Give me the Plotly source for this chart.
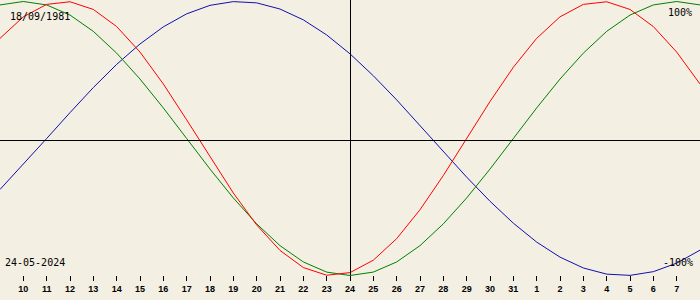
import plotly.graph_objects as go
import pandas as pd

# Dates shown (9 May 2024 .. 8 June 2024)
dates = list(pd.date_range("2024-05-09", "2024-06-08").strftime("%Y-%m-%d"))

# Biorhythm values per day, fraction of 100%
physical = [0.731, 0.888, 0.979, 0.998, 0.942, 0.817, 0.631, 0.398, 0.136, -0.136,
            -0.398, -0.631, -0.817, -0.942, -0.998, -0.979, -0.888, -0.731, -0.520, -0.270,
            0.000, 0.270, 0.520, 0.731, 0.888, 0.979, 0.998, 0.942, 0.817, 0.631, 0.398]
emotional = [0.975, 1.000, 0.975, 0.901, 0.782, 0.623, 0.434, 0.223, 0.000, -0.223,
             -0.434, -0.623, -0.782, -0.901, -0.975, -1.000, -0.975, -0.901, -0.782, -0.623,
             -0.434, -0.223, 0.000, 0.223, 0.434, 0.623, 0.782, 0.901, 0.975, 1.000, 0.975]
intellectual = [-0.372, -0.189, 0.000, 0.189, 0.372, 0.541, 0.690, 0.815, 0.910, 0.972,
                0.999, 0.990, 0.945, 0.866, 0.756, 0.618, 0.458, 0.282, 0.095, -0.095,
                -0.282, -0.458, -0.618, -0.756, -0.866, -0.945, -0.990, -0.999, -0.972, -0.910, -0.815]

tick_dates = dates[1:30]
tick_labels = [str(int(d[-2:])) for d in tick_dates]

birth_label = "18/09/1981"
target_label = "24-05-2024"

BG = "#f3efe3"

fig = go.Figure()
fig.add_trace(go.Scatter(x=dates, y=intellectual, mode="lines",
                         line=dict(color="#1010b0", width=1), hoverinfo="skip"))
fig.add_trace(go.Scatter(x=dates, y=emotional, mode="lines",
                         line=dict(color="#008000", width=1), hoverinfo="skip"))
fig.add_trace(go.Scatter(x=dates, y=physical, mode="lines",
                         line=dict(color="#ff0000", width=1), hoverinfo="skip"))

# axes lines (centre cross at the target date)
fig.add_shape(type="line", xref="paper", yref="paper", x0=0, x1=1,
              y0=1 - 140.5 / 300, y1=1 - 140.5 / 300, line=dict(color="black", width=1))
fig.add_shape(type="line", xref="paper", yref="paper", x0=350.5 / 700, x1=350.5 / 700,
              y0=25 / 300, y1=1, line=dict(color="black", width=1))

mono = "DejaVu Sans Mono"
fig.add_annotation(text=birth_label, xref="paper", yref="paper", x=8 / 700, y=1 - 16.5 / 300,
                   xanchor="left", yanchor="middle", showarrow=False,
                   font=dict(family=mono, size=10, color="black"))
fig.add_annotation(text=target_label, xref="paper", yref="paper", x=3 / 700, y=1 - 262.5 / 300,
                   xanchor="left", yanchor="middle", showarrow=False,
                   font=dict(family=mono, size=10, color="black"))
fig.add_annotation(text="100%", xref="paper", yref="paper", x=694 / 700, y=1 - 12 / 300,
                   xanchor="right", yanchor="middle", showarrow=False,
                   font=dict(family=mono, size=10, color="black"))
fig.add_annotation(text="-100%", xref="paper", yref="paper", x=695 / 700, y=1 - 262 / 300,
                   xanchor="right", yanchor="middle", showarrow=False,
                   font=dict(family=mono, size=10, color="black"))

fig.update_layout(
    width=700, height=300,
    margin=dict(l=0, r=0, t=0, b=0),
    paper_bgcolor=BG, plot_bgcolor=BG,
    showlegend=False,
    xaxis=dict(range=[dates[0], dates[-1]], tickvals=tick_dates, ticktext=tick_labels,
               anchor="free", position=25 / 300, showgrid=False, zeroline=False,
               showline=False, ticks="outside", ticklen=5, tickwidth=1, tickcolor="black",
               tickfont=dict(family="Liberation Sans", size=9, color="black", weight="bold")),
    yaxis=dict(range=[-(300 - 138.5) / 137, 138.5 / 137], visible=False,
               showgrid=False, zeroline=False),
)

fig.write_html("out.html")
